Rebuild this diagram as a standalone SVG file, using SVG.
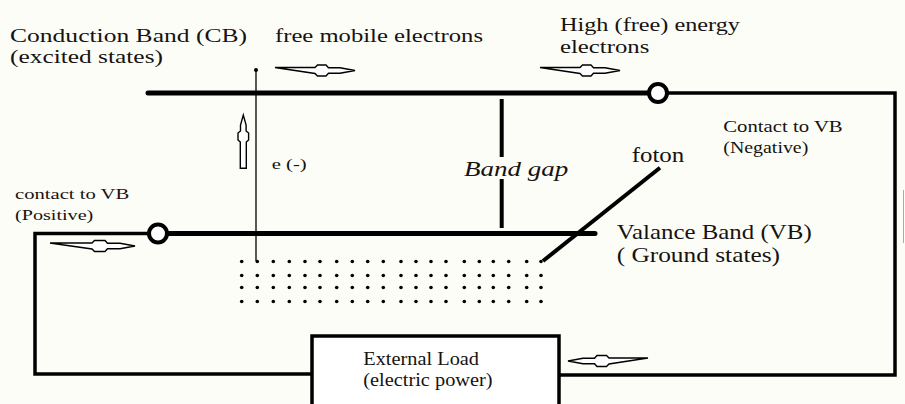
<svg xmlns="http://www.w3.org/2000/svg" width="905" height="404" viewBox="0 0 905 404">
<style>
  text { font-family: "Liberation Serif", "Times New Roman", serif; fill: #161310; }
  .wire { fill: none; stroke: #000; stroke-width: 3.5; }
  .band { fill: none; stroke: #000; stroke-width: 5; stroke-linecap: round; }
  .thick { fill: none; stroke: #000; stroke-width: 4; }
  .contact { fill: #fff; stroke: #000; stroke-width: 4; }
  .dot { fill: #000; }
  .arr { fill: #fff; stroke: #000; stroke-width: 1.4; stroke-linejoin: miter; }
</style>
<defs>
  <circle id="d" r="1.8"/>
</defs>
<rect x="0" y="0" width="905" height="404" fill="#fdfdf8"/>

<g id="connectors">
  <path class="wire" d="M668,93 H895 V375 H559"/>
  <path class="wire" d="M149,233.5 H35 V374 H312"/>
  <line x1="256" y1="70" x2="256" y2="261" stroke="#000" stroke-width="1.3"/>
  <circle cx="256" cy="70" r="2" fill="#000"/>
  <line class="thick" x1="501.7" y1="99" x2="501.7" y2="157"/>
  <line class="thick" x1="501.7" y1="179" x2="501.7" y2="228"/>
  <line class="thick" x1="660" y1="167.7" x2="543" y2="261"/>
  <line x1="903.5" y1="190" x2="903.5" y2="243" stroke="#aaa" stroke-width="1"/>
</g>

<g id="arrows">
  <path class="arr" d="M275,67.5 H315 L317.5,65 H326 L328.5,67.8 H340 L355,70.5 L340,73.2 H328.5 L326,76 H317.5 L315,73.5 Z"/>
  <path class="arr" d="M540,67.5 H580 L582.5,65 H591 L593.5,67.8 H605 L620,70.5 L605,73.2 H593.5 L591,76 H582.5 L580,73.5 Z"/>
  <path class="arr" d="M50,243 H92 L94.5,240.5 H105 L107.5,243.3 H120 L135,246 L120,248.7 H107.5 L105,251.5 H94.5 L92,249 Z"/>
  <path class="arr" d="M648,358 H609 L606.5,355.5 H597 L594.5,358.3 H583 L568,361 L583,363.7 H594.5 L597,366.5 H606.5 L609,364 Z"/>
  <path class="arr" d="M240.3,168.3 V142 L238,140 V133 L240.5,131 V125 L243.3,115 L246.1,125 V131 L248.6,133 V140 L246.3,142 V168.3 Z"/>
</g>

<g id="conduction-band">
  <line class="band" x1="148" y1="93" x2="648" y2="93"/>
  <circle class="contact" cx="658" cy="93" r="9"/>
  <text x="10" y="41.7" font-size="19.5" textLength="237" lengthAdjust="spacingAndGlyphs">Conduction Band (CB)</text>
  <text x="10" y="63.3" font-size="19.5" textLength="153" lengthAdjust="spacingAndGlyphs">(excited states)</text>
</g>

<g id="free-electrons">
  <text x="275" y="41.7" font-size="19.5" textLength="208" lengthAdjust="spacingAndGlyphs">free mobile electrons</text>
</g>

<g id="high-energy">
  <text x="560" y="30.5" font-size="19.5" textLength="180" lengthAdjust="spacingAndGlyphs">High (free) energy</text>
  <text x="560" y="52.7" font-size="19.5" textLength="89.3" lengthAdjust="spacingAndGlyphs">electrons</text>
</g>

<g id="contact-negative">
  <text x="723.3" y="132.3" font-size="17" textLength="119.4" lengthAdjust="spacingAndGlyphs">Contact to VB</text>
  <text x="723.3" y="153.3" font-size="17" textLength="85" lengthAdjust="spacingAndGlyphs">(Negative)</text>
</g>

<g id="foton">
  <text x="631.7" y="161.7" font-size="22" textLength="52.6" lengthAdjust="spacingAndGlyphs">foton</text>
</g>

<g id="band-gap">
  <text x="464" y="175.7" font-size="20" font-style="italic" textLength="104.3" lengthAdjust="spacingAndGlyphs">Band gap</text>
</g>

<g id="electron">
  <text x="271.7" y="169.3" font-size="15" textLength="35" lengthAdjust="spacingAndGlyphs">e (-)</text>
</g>

<g id="valence-band">
  <line class="band" x1="168" y1="233.5" x2="595" y2="233.5"/>
  <circle class="contact" cx="158" cy="233.5" r="9"/>
  <text x="616.7" y="239.3" font-size="21" textLength="195" lengthAdjust="spacingAndGlyphs">Valance Band (VB)</text>
  <text x="616.7" y="261.7" font-size="21" textLength="163.3" lengthAdjust="spacingAndGlyphs">( Ground states)</text>
</g>

<g id="contact-positive">
  <text x="15" y="199.3" font-size="15" textLength="114.3" lengthAdjust="spacingAndGlyphs">contact to VB</text>
  <text x="15" y="220" font-size="15" textLength="78.3" lengthAdjust="spacingAndGlyphs">(Positive)</text>
</g>

<g id="electron-dots" class="dot">
  <g id="row1" transform="translate(0,261.5)">
    <use href="#d" x="241.7"/><use href="#d" x="257.3"/><use href="#d" x="273.3"/><use href="#d" x="289.3"/><use href="#d" x="305"/>
    <use href="#d" x="320"/><use href="#d" x="336.7"/><use href="#d" x="352.3"/><use href="#d" x="367.7"/><use href="#d" x="383.3"/>
    <use href="#d" x="401"/><use href="#d" x="416"/><use href="#d" x="431"/><use href="#d" x="446"/><use href="#d" x="464.3"/>
    <use href="#d" x="479.3"/><use href="#d" x="493.3"/><use href="#d" x="508.7"/><use href="#d" x="526.7"/><use href="#d" x="541"/>
  </g>
  <use href="#row1" y="14"/>
  <use href="#row1" y="26"/>
  <use href="#row1" y="40"/>
</g>

<g id="external-load">
  <rect x="312" y="336" width="247" height="80" fill="#fff" stroke="#000" stroke-width="3.5"/>
  <text x="363.3" y="365" font-size="18" textLength="115.7" lengthAdjust="spacingAndGlyphs">External Load</text>
  <text x="363.3" y="386" font-size="18" textLength="129.3" lengthAdjust="spacingAndGlyphs">(electric power)</text>
</g>
</svg>
